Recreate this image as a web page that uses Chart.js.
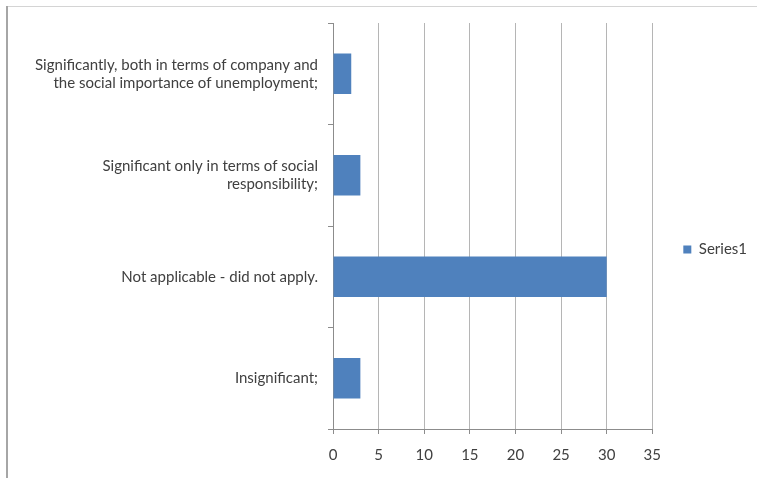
<!DOCTYPE html>
<html>

<head>
    <title>Series1 bar chart</title>
    <script src="https://cdn.jsdelivr.net/npm/chart.js"></script>
    <style>
        html, body { margin: 0; padding: 0; background: #fff; }
        #wrap { position: relative; width: 757px; height: 478px; overflow: hidden; }
        /* frame lines of the original picture */
        #frameTop { position: absolute; left: 6px; top: 6px; width: 760px; height: 1px; background: #d4d4d4; }
        #frameLeft { position: absolute; left: 6px; top: 6px; width: 2px; height: 480px; background: #a6a6a6; }
        #chart { position: absolute; left: 0; top: 0; }
    </style>
</head>

<body>
    <div id="wrap">
        <div id="frameTop"></div>
        <div id="frameLeft"></div>
        <canvas id="chart" width="757" height="478"></canvas>
    </div>

    <script>
        // chart data
        const categories = [
            ['Significantly, both in terms of company and', 'the social importance of unemployment;'],
            ['Significant only in terms of social', 'responsibility;'],
            'Not applicable - did not apply.',
            'Insignificant;'
        ];
        const series1 = [2, 3, 30, 3];
        const xTicks = [0, 5, 10, 15, 20, 25, 30, 35];

        const fontFamily = 'Lato, "Open Sans", sans-serif';
        const textColor = '#404040';

        const ctx = document.getElementById('chart');

        var chart = new Chart(ctx, {
            type: 'bar',
            data: {
                labels: categories,
                datasets: [{
                    label: 'Series1',
                    data: series1,
                    backgroundColor: '#4f81bd',
                    borderWidth: 0,
                    categoryPercentage: 0.4,
                    barPercentage: 1.0
                }]
            },
            options: {
                indexAxis: 'y',
                responsive: false,
                animation: false,
                layout: {
                    padding: { top: 23, left: 13, bottom: 2, right: 0 }
                },
                plugins: {
                    tooltip: { enabled: false },
                    legend: {
                        position: 'right',
                        labels: {
                            boxWidth: 8,
                            boxHeight: 8,
                            padding: 31,
                            color: textColor,
                            font: { family: fontFamily, size: 15 }
                        }
                    }
                },
                scales: {
                    x: {
                        min: xTicks[0],
                        max: xTicks[xTicks.length - 1],
                        afterBuildTicks: (scale) => {
                            scale.ticks = xTicks.map(v => ({ value: v }));
                        },
                        grid: {
                            color: '#b5b5b5',
                            tickLength: 5,
                            tickColor: '#8c8c8c'
                        },
                        border: { color: '#8c8c8c' },
                        ticks: {
                            color: textColor,
                            padding: 12,
                            font: { family: fontFamily, size: 15 }
                        }
                    },
                    y: {
                        afterFit: (scale) => { scale.width = 320; },
                        grid: {
                            drawOnChartArea: false,
                            tickLength: 5,
                            color: '#8c8c8c'
                        },
                        border: { color: '#8c8c8c' },
                        ticks: {
                            color: textColor,
                            padding: 10,
                            font: { family: fontFamily, size: 15 }
                        }
                    }
                }
            }
        });
    </script>
</body>

</html>
